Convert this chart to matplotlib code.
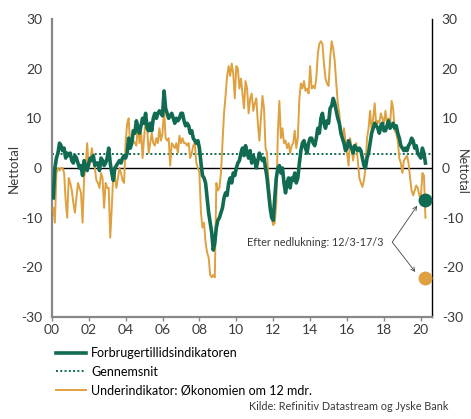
import numpy as np
import matplotlib
matplotlib.use("Agg")
import matplotlib.pyplot as plt
from matplotlib.lines import Line2D

plt.rcParams['font.family'] = ['Lato', 'DejaVu Sans']

# Forbrugertillidsindikatoren, monthly Jan 2000 - Mar 2020
confidence = [
    -6, 0, 2, 3, 5, 4.5, 3.5, 4, 2, 3, 2.5, 3,                     # 2000
    1.5, 1, 2.5, 2, 1, 0, 0.5, -1.5, 1.5, 0, -0.5, 1,              # 2001
    2, 1.5, 2.5, 0.5, 1, 1, -0.5, 2, 1.5, 0.5, 1, 2,               # 2002
    4, 1, -1, -2.5, 0, 0.5, 1, 1.5, 1, 2, 2.5, 2,                  # 2003
    3, 6, 4, 5, 7.5, 7, 9.5, 8, 7, 8.5, 10, 9,                     # 2004
    11, 8, 7.5, 9, 7.5, 10, 11, 10, 11, 11.5, 11, 10.5,            # 2005
    15.5, 12, 11, 10, 10.5, 11, 10, 9, 10, 9.5, 10, 11,            # 2006
    11, 9.5, 8.5, 9, 8.5, 7, 7.5, 6, 5.5, 5, 5.5, 4,               # 2007
    1, -1.5, -2, -3, -6, -9, -11, -13, -16.5, -15, -12, -10.5,     # 2008
    -10, -9, -8, -6, -5, -5.5, -3, -2, -3, -1, -1.5, 0,            # 2009
    1, 1.5, 3, 4, 2.5, 4.5, 3, 2, 3.5, 1, 2.5, 1.5,                # 2010
    0, 1.5, 3, 2, 1.5, 2, 0, -2, -5, -8, -10, -10.5,               # 2011
    -6, -2, 0, 0.5, -1, 0, -3, -5, -3, -2, -4, -2,                 # 2012
    -2.5, -1, -3, -2, 1, 3.5, 5, 5.5, 4, 3, 5, 6,                  # 2013
    6, 5, 4.5, 6, 8, 7, 10, 11, 9, 8, 9.5, 9,                      # 2014
    12, 12.5, 14, 13, 11.5, 10, 9, 7, 6, 5, 3.5, 4,                # 2015
    5.5, 4.5, 4, 3, 4.5, 4, 3.5, 4, 3.5, 2, 0.5, 0,                # 2016
    2, 3, 5, 7, 8, 9, 8.5, 8, 7, 8.5, 9, 7.5,                      # 2017
    7.5, 8.5, 9.5, 8, 8.5, 9, 8, 8.5, 7, 6, 4.5, 4,                # 2018
    3.5, 4, 3.5, 4.5, 5, 6, 5.5, 4, 4.5, 3, 2.5, 2,                # 2019
    4, 3, 1,                                                       # 2020
]

# Underindikator: Økonomien om 12 mdr.
economy = [
    -8, -11, -1, 0, -0.5, 0, 0, -1, -6.5, -10, -2, -3,             # 2000
    -4.5, -7, -9, -6, -3, -4, -5, -11, -2, 0, 5, 0,                # 2001
    1, 4, 2, 0, -2.5, -3, -4, -1, -2, -8, -3, -4,                  # 2002
    -4, -14, -8, -1, -1.5, -4, -2, 0, -1, -2.5, -3, 5,             # 2003
    9, 10, 4, 6, 5.5, 5, 4.5, 9, 5, 8, 2, 6,                       # 2004
    9.5, 8, 3, 5, 7, 5, 4.5, 6, 5, 8, 5.5, 7,                      # 2005
    12, 6, 5.5, 6, 0.5, 5, 4.5, 4, 5, 3, 6.5, 5,                   # 2006
    6, 5, 5, 4.5, 5, 2, 3, 4.5, 5, 1, 0, -1,                       # 2007
    -9, -12, -11, -15, -17, -18, -21.5, -22, -21.5, -22, -3, -4.5, # 2008
    -4, -1, 5, 11, 14.5, 18.5, 20.5, 18.5, 21, 19, 14, 20.5,       # 2009
    20, 16, 18, 15, 12, 17.5, 16, 11, 14, 15, 11.5, 13,            # 2010
    14, 9, 5.5, 10, 14.5, 12, 4, 3, -3, -6, -10, -11.5,            # 2011
    -11, -7, 7, 13.5, 6, 8, 5, 5.5, 4, 5, 3, 4.5,                  # 2012
    5, 7.5, 4, 6, 14, 17, 16, 17.5, 15.5, 16, 15, 20.5,            # 2013
    16, 16.5, 16, 18, 23, 25, 25.5, 25, 21, 18, 17, 16.5,          # 2014
    22, 25.5, 24, 21.5, 17, 13, 11, 7, 6.5, 8, 5.5, 3,             # 2015
    0.5, 6, 4, 1.5, 4.5, 5, 1.5, -2, -3, -3.8, -2.5, 0,            # 2016
    6, 8, 11.5, 7.5, 10, 13, 8.5, 9.5, 9, 11, 10, 9,               # 2017
    11.5, 9, 10, 8.5, 13.5, 12, 7.5, 7, 5.5, 2, 1, -1,             # 2018
    1.5, 2, 2.5, 1, -2, -4.5, -5.5, -4.5, -3.5, -4, -5.5, -6,      # 2019
    -1, -1.5, -10,                                                 # 2020
]

mean_value = 2.9
lockdown_conf = -6.5      # after lockdown, 12/3-17/3
lockdown_econ = -22.2
lockdown_date = 2020.2

x_ticks = list(range(2000, 2021, 2))
x_labels = ['00', '02', '04', '06', '08', '10', '12', '14', '16', '18', '20']
y_ticks = [-30, -20, -10, 0, 10, 20, 30]

months = 2000 + (np.arange(len(confidence)) + 1) / 12

green = '#106b52'
orange = '#dfa03f'
textcol = '#3a3a3a'

fig = plt.figure(figsize=(4.71, 4.19), dpi=100)
ax = fig.add_axes([0.110, 0.243, 0.807, 0.712])

ax.axhline(0, color='black', linewidth=1.0, zorder=1)
ax.axhline(mean_value, color=green, linestyle=(0, (1, 1.2)), linewidth=1.4, zorder=2)
ax.plot(months, economy, color=orange, linewidth=1.4, zorder=3)
ax.plot(months, confidence, color=green, linewidth=2.6, zorder=4)

ax.plot([lockdown_date], [lockdown_conf], 'o', color=green, markersize=9, zorder=5)
ax.plot([lockdown_date], [lockdown_econ], 'o', color=orange, markersize=9, zorder=5)

# annotation with two arrows
txt_x, txt_y = 2018.45, -14.9
ax.text(txt_x - 0.5, txt_y, 'Efter nedlukning: 12/3-17/3', fontsize=7.8,
        ha='right', va='center', color=textcol)
arrow = dict(arrowstyle='->', color='#444444', linewidth=0.6,
             shrinkA=0, shrinkB=0, mutation_scale=7)
ax.annotate('', xy=(2019.8, -7.6), xytext=(txt_x, txt_y), arrowprops=arrow)
ax.annotate('', xy=(2019.7, -20.9), xytext=(txt_x, txt_y), arrowprops=arrow)

ax.set_xlim(2000.08, 2020.6)
ax.set_ylim(-30, 30)
ax.set_xticks(x_ticks)
ax.set_xticklabels(x_labels)
ax.set_yticks(y_ticks)
ax.set_yticklabels([str(v) for v in y_ticks])

ax.spines['top'].set_visible(False)
ax.spines['left'].set_color('#888888')
ax.spines['left'].set_linewidth(1.6)
ax.spines['bottom'].set_color('#888888')
ax.spines['bottom'].set_linewidth(1.6)
ax.spines['right'].set_color('black')
ax.spines['right'].set_linewidth(1.0)

ax.tick_params(axis='x', length=3, width=1, color='#888888', labelsize=10,
               labelcolor=textcol, pad=2)
ax.tick_params(axis='y', length=0, labelsize=10, labelcolor=textcol, pad=7,
               labelright=True, right=False)

ax.set_ylabel('Nettotal', fontsize=9.5, color=textcol, labelpad=1)
fig.text(0.968, 0.59, 'Nettotal', rotation=270, fontsize=9, color=textcol,
         ha='left', va='center')

handles = [
    Line2D([], [], color=green, linewidth=2.6),
    Line2D([], [], color=green, linestyle=(0, (1, 1.2)), linewidth=1.4),
    Line2D([], [], color=orange, linewidth=1.4),
]
labels = ['Forbrugertillidsindikatoren', 'Gennemsnit',
          'Underindikator: Økonomien om 12 mdr.']
fig.legend(handles, labels, loc='upper left', bbox_to_anchor=(0.118, 0.172),
           frameon=False, fontsize=9, handlelength=2.4, handletextpad=0.45,
           labelspacing=0.55, borderaxespad=0, borderpad=0)

fig.text(0.952, 0.017, 'Kilde: Refinitiv Datastream og Jyske Bank', fontsize=7.8,
         ha='right', va='bottom', color=textcol)

fig.savefig('out.png', dpi=100)
